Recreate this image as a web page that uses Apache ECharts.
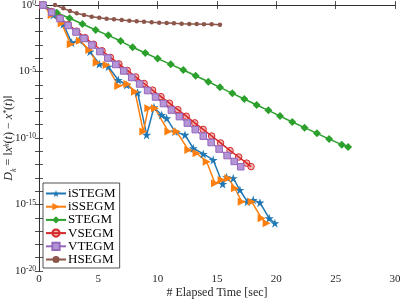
<!DOCTYPE html>
<html>
<head>
<meta charset="utf-8">
<script src="https://cdn.jsdelivr.net/npm/echarts@6/dist/echarts.min.js"></script>
<style>html,body{margin:0;padding:0;background:#fff}#c{width:402px;height:299px}</style>
</head>
<body>
<div id="c"></div>
<script>
// Values are log10(D_k); x is elapsed time in seconds
const seriesNames = ['iSTEGM', 'iSSEGM', 'STEGM', 'VSEGM', 'VTEGM', 'HSEGM'];
const xTicks = [0, 5, 10, 15, 20, 25, 30];
const yLabelExponents = [0, -5, -10, -15, -20];

const iSTEGM_t = [0.34, 1.2, 2.05, 2.75, 3.4, 4.3, 5.08, 5.84, 6.68, 7.39, 8.31, 9.07, 9.69, 10.34, 10.76, 11.46, 12.3, 13.0, 13.84, 14.68, 15.48, 15.81, 16.37, 16.93, 17.55, 18.05, 18.62, 19.4, 19.88];
const iSTEGM_logD = [0, -0.75, -1.43, -2.83, -2.63, -3.51, -4.44, -4.64, -5.64, -6.02, -6.59, -9.77, -7.69, -8.27, -8.52, -9.52, -9.77, -10.77, -11.2, -11.65, -13.46, -12.95, -13.03, -13.91, -14.79, -14.66, -14.86, -16.04, -16.41];

const iSSEGM_t = [0.34, 1.07, 1.91, 2.67, 3.45, 4.24, 4.86, 5.7, 6.68, 7.44, 8.09, 8.79, 9.21, 9.77, 10.9, 11.6, 12.58, 13.28, 14.13, 14.83, 15.39, 15.95, 16.51, 17.08, 17.92, 18.76, 19.18];
const iSSEGM_logD = [0, -0.75, -1.38, -2.96, -2.68, -3.38, -4.34, -4.51, -6.09, -5.94, -6.52, -9.52, -7.77, -7.77, -9.52, -9.52, -10.9, -11.15, -11.78, -13.41, -13.16, -13.03, -13.78, -14.79, -14.79, -16.04, -16.41];

const STEGM_t = [0.34, 1.5, 2.58, 3.66, 4.77, 5.84, 6.88, 7.89, 8.96, 10.0, 11.1, 12.16, 13.2, 14.27, 15.25, 16.29, 17.3, 18.34, 19.33, 20.31, 21.34, 22.38, 23.42, 24.45, 25.52, 26.05];
const STEGM_logD = [0, -0.58, -1.0, -1.43, -1.88, -2.28, -2.71, -3.18, -3.61, -4.03, -4.46, -4.89, -5.32, -5.77, -6.19, -6.64, -7.07, -7.52, -7.92, -8.35, -8.8, -9.22, -9.65, -10.08, -10.5, -10.68];

const VSEGM_t = [0.34, 1.05, 1.76, 2.47, 3.18, 3.89, 4.6, 5.31, 6.02, 6.73, 7.44, 8.15, 8.86, 9.57, 10.28, 10.99, 11.7, 12.41, 13.12, 13.83, 14.55, 15.3, 16.1, 16.83, 17.5, 17.87];
const VSEGM_logD = [0, -0.49, -0.98, -1.48, -1.97, -2.46, -2.95, -3.44, -3.94, -4.43, -4.92, -5.41, -5.9, -6.4, -6.89, -7.38, -7.87, -8.36, -8.86, -9.35, -9.85, -10.37, -10.95, -11.43, -11.89, -12.15];

const VTEGM_t = [0.34, 1.07, 1.77, 2.45, 3.12, 3.79, 4.46, 5.13, 5.8, 6.47, 7.14, 7.81, 8.48, 9.15, 9.82, 10.49, 11.16, 11.83, 12.5, 13.17, 13.84, 14.51, 15.18, 15.85, 16.45, 17.0];
const VTEGM_logD = [0, -0.55, -1.02, -1.54, -2.03, -2.52, -3.01, -3.5, -3.99, -4.47, -4.96, -5.45, -5.94, -6.43, -6.92, -7.41, -7.9, -8.39, -8.88, -9.37, -9.86, -10.34, -10.83, -11.32, -11.76, -12.16];

const HSEGM_t = [1.35, 2.05, 2.61, 3.18, 3.79, 4.44, 5.08, 5.7, 6.32, 6.97, 7.61, 8.23, 8.85, 9.49, 10.13, 10.76, 11.37, 12.02, 12.66, 13.29, 13.9, 14.55, 15.25];
const HSEGM_logD = [0, -0.25, -0.45, -0.62, -0.75, -0.88, -0.95, -1.03, -1.08, -1.13, -1.18, -1.23, -1.25, -1.3, -1.33, -1.35, -1.38, -1.41, -1.43, -1.43, -1.45, -1.45, -1.48];

const zip = (a, b) => a.map((v, i) => [v, b[i]]);

const STAR = 'path://M50,0 L61.8,35.1 L98.8,35.1 L68.9,56.9 L80.3,92 L50,70.2 L19.7,92 L31.1,56.9 L1.2,35.1 L38.2,35.1 Z';
const TRI_R = 'path://M0,0 L10,5 L0,10 Z';

const serif = 'Liberation Serif';
const axisColor = '#262626';

function mk(name, t, y, color, symbol, size, itemStyle) {
  return {
    name, type: 'line', data: zip(t, y),
    symbol, symbolSize: size,
    lineStyle: { color, width: 1.5 },
    itemStyle: Object.assign({ color }, itemStyle || {}),
    emphasis: { disabled: true },
    animation: false
  };
}

const chart = echarts.init(document.getElementById('c'), null, { renderer: 'canvas' });

const yRich = {
  b: { fontFamily: serif, fontSize: 11, color: axisColor, lineHeight: 11, verticalAlign: 'bottom', padding: [3, 0, 0, 0] },
  s: { fontFamily: serif, fontSize: 7.5, color: axisColor, lineHeight: 8, verticalAlign: 'top' }
};

chart.setOption({
  backgroundColor: '#fff',
  animation: false,
  grid: { left: 39, right: 7, top: 5, bottom: 28, containLabel: false, outerBoundsMode: 'none' },
  xAxis: [{
    type: 'value', min: 0, max: 30, interval: 5,
    name: '# Elapsed Time [sec]', nameLocation: 'middle', nameGap: 16, nameMoveOverlap: false,
    nameTextStyle: { fontFamily: serif, fontSize: 12, color: axisColor },
    axisLine: { lineStyle: { color: axisColor, width: 0.8 } },
    axisTick: { inside: true, length: 4, lineStyle: { color: axisColor, width: 0.8 } },
    axisLabel: { fontFamily: serif, fontSize: 11, color: axisColor, margin: 3,
      formatter: v => xTicks.includes(v) ? String(v) : '' },
    splitLine: { show: false }
  }, {
    type: 'value', min: 0, max: 30, interval: 5, position: 'top',
    axisLine: { lineStyle: { color: axisColor, width: 0.8 } },
    axisTick: { inside: true, length: 4, lineStyle: { color: axisColor, width: 0.8 } },
    axisLabel: { show: false }, splitLine: { show: false }
  }],
  yAxis: [{
    type: 'value', min: -20, max: 0, interval: 1,
    name: '{i|D}{sub|k}{n| = ‖}{i|x}{sup|k}{n|(}{i|t}{n|) − }{i|x}{sup|*}{n|(}{i|t}{n|)‖}',
    nameLocation: 'middle', nameRotate: 90, nameGap: 24, nameMoveOverlap: false,
    nameTextStyle: {
      rich: {
        i: { fontFamily: serif, fontStyle: 'italic', fontSize: 12, color: axisColor, lineHeight: 12, verticalAlign: 'bottom', padding: [3, 0, 0, 0] },
        n: { fontFamily: serif, fontSize: 12, color: axisColor, lineHeight: 12, verticalAlign: 'bottom', padding: [3, 0, 0, 0] },
        sub: { fontFamily: serif, fontStyle: 'italic', fontSize: 8, color: axisColor, lineHeight: 8, verticalAlign: 'bottom', padding: [0, 0, -3, 0] },
        sup: { fontFamily: serif, fontStyle: 'italic', fontSize: 8, color: axisColor, lineHeight: 8, verticalAlign: 'top' }
      }
    },
    axisLine: { show: true, lineStyle: { color: axisColor, width: 0.8 } },
    axisTick: { inside: true, length: 4, lineStyle: { color: axisColor, width: 0.8 } },
    axisLabel: {
      interval: 0, margin: 3, rich: yRich, align: 'right', verticalAlign: 'middle',
      formatter: v => yLabelExponents.includes(v) ? '{b|10}{s|' + v + '}' : ''
    },
    splitLine: { show: false }
  }, {
    type: 'value', min: -20, max: 0, interval: 1, position: 'right',
    axisLine: { show: true, lineStyle: { color: axisColor, width: 0.8 } },
    axisTick: { inside: true, length: 4, lineStyle: { color: axisColor, width: 0.8 } },
    axisLabel: { show: false }, splitLine: { show: false }
  }],
  legend: {
    data: seriesNames,
    orient: 'vertical', left: 43, top: 183,
    itemWidth: 20, itemHeight: 9, itemGap: 0.2,
    padding: [4, 4, 2, 2],
    backgroundColor: '#fff', borderColor: axisColor, borderWidth: 0.8,
    textStyle: { fontFamily: serif, fontSize: 13, color: '#000', padding: [0, 0, 0, -3] },
    selectedMode: false
  },
  series: [
    mk('iSTEGM', iSTEGM_t, iSTEGM_logD, '#1f77b4', STAR, 9),
    mk('iSSEGM', iSSEGM_t, iSSEGM_logD, '#ff7f0e', TRI_R, 8),
    mk('STEGM', STEGM_t, STEGM_logD, '#2ca02c', 'diamond', 8),
    mk('VSEGM', VSEGM_t, VSEGM_logD, '#d62728', 'circle', 6.5, { color: 'rgba(214,39,40,0.35)', borderColor: '#d62728', borderWidth: 1 }),
    mk('VTEGM', VTEGM_t, VTEGM_logD, '#9467bd', 'rect', 6.5, { color: '#b596d6', borderColor: '#9467bd', borderWidth: 1 }),
    mk('HSEGM', HSEGM_t, HSEGM_logD, '#8c564b', 'circle', 4.5)
  ]
});
</script>
</body>
</html>
